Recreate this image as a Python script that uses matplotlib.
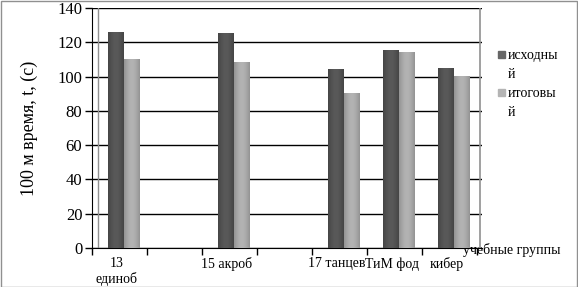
import matplotlib.pyplot as plt
import numpy as np

groups = ['13\nединоб', '', '15 акроб', '', '17 танцев', 'ТиМ фод', 'кибер']
ishodn = [126, None, 125, None, 104, 115, 105]
itog = [110, None, 108, None, 90, 114, 100]
yticks = [0, 20, 40, 60, 80, 100, 120, 140]

plt.rcParams['font.family'] = ['Liberation Serif', 'DejaVu Serif']

fig = plt.figure(figsize=(5.78, 2.87), dpi=100)
W, H = 578, 287
ax = fig.add_axes([92 / W, 39 / H, 390 / W, 240 / H])

x = np.arange(len(groups))
w = 0.29
off = 0.073


def shaded(ax, xs, vals, base, dark):
    # bars with a soft horizontal gradient, like the excel cylinders
    for xi, v in zip(xs, vals):
        if v is None:
            continue
        b = ax.bar(xi, v, w, color=base, zorder=3)[0]
        if dark:
            col = 0.27 + 0.08 * np.sin(np.linspace(0, np.pi, 40))
        else:
            col = 0.58 + 0.12 * np.sin(np.linspace(0, np.pi, 40))
        img = np.tile(col, (2, 1))
        ax.imshow(img, cmap='gray', vmin=0, vmax=1, aspect='auto',
                  extent=[b.get_x(), b.get_x() + b.get_width(), 0, v],
                  zorder=4, interpolation='bilinear')


shaded(ax, x - w / 2 + off, ishodn, '#4c4c4c', True)
shaded(ax, x + w / 2 + off, itog, '#a0a0a0', False)

ax.set_xlim(-0.5, -0.5 + 390 / 55)
ax.set_ylim(0, 140)
ax.set_yticks(yticks)
ax.set_yticklabels([str(t) for t in yticks], fontsize=12)
ax.yaxis.grid(True, color='black', lw=1, zorder=1)
ax.set_axisbelow(True)
ax.tick_params(axis='y', length=5, width=1, direction='out', pad=2)

ax.set_xticks(np.arange(-0.5, 7, 1))
ax.set_xticklabels([])
ax.tick_params(axis='x', length=5, width=1, direction='out')
for i, g in enumerate(groups):
    ax.text(i - 0.05, -5.5, g, ha='center', va='top', fontsize=10, linespacing=1.1)

for s in ['top', 'right']:
    ax.spines[s].set_visible(False)
ax.spines['left'].set_color('black')
ax.spines['bottom'].set_color('black')
ax.axvline(-0.5 + 6 / 55, color='#909090', lw=1, zorder=2)
ax.axvline(-0.5 + 388 / 55, color='#909090', lw=1.2, zorder=5)

ax.set_ylabel('100 м время, t, (с)', fontsize=13, labelpad=14)
ax.text(463 / W, 1 - 250 / H, 'учебные группы', transform=fig.transFigure,
        ha='left', va='center', fontsize=10)

# legend made by hand, squares + wrapped text
fig.patches.append(plt.Rectangle((498 / W, 1 - 58 / H), 7 / W, 7 / H,
                                 transform=fig.transFigure, color='#666666'))
fig.patches.append(plt.Rectangle((498 / W, 1 - 96 / H), 7 / W, 7 / H,
                                 transform=fig.transFigure, color='#b4b4b4'))
fig.text(508 / W, 1 - 49 / H, 'исходны\nй', ha='left', va='top',
         fontsize=10, linespacing=1.6)
fig.text(508 / W, 1 - 87 / H, 'итоговы\nй', ha='left', va='top',
         fontsize=10, linespacing=1.6)

fig.patches.append(plt.Rectangle((0.5 / W, 0.5 / H), 1 - 1.5 / W, 1 - 1.5 / H,
                                 transform=fig.transFigure, fill=False,
                                 edgecolor='#909090', lw=1))

fig.savefig('out.png', dpi=100)
